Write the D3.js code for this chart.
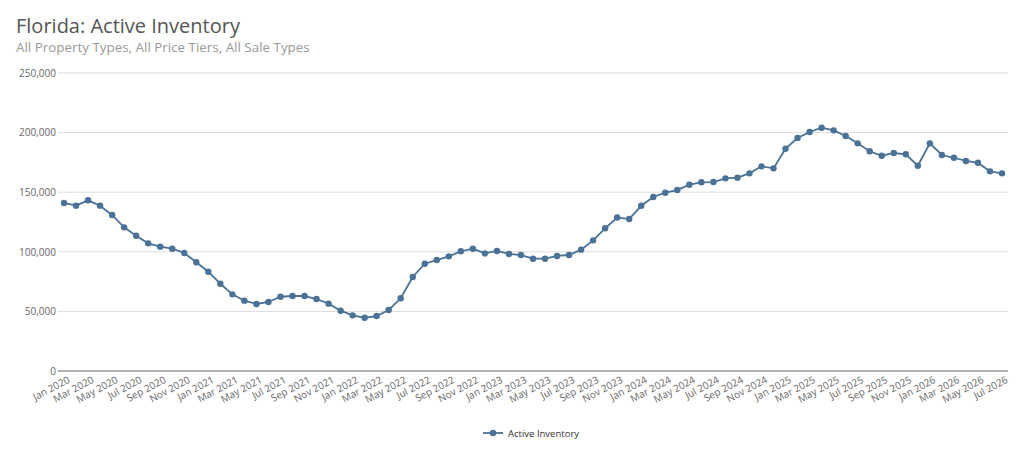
<!DOCTYPE html>
<html>
<head>
<meta charset="utf-8">
<script src="https://cdn.jsdelivr.net/npm/d3@7/dist/d3.min.js"></script>
<style>
  html, body { margin: 0; padding: 0; background: #fff; }
  svg { display: block; font-family: "Open Sans", "Noto Sans", sans-serif; }
</style>
</head>
<body>
<svg id="chart" width="1024" height="469"></svg>
<script>
const title = "Florida: Active Inventory";
const subtitle = "All Property Types, All Price Tiers, All Sale Types";
const seriesName = "Active Inventory";
const monthNames = ["Jan","Feb","Mar","Apr","May","Jun","Jul","Aug","Sep","Oct","Nov","Dec"];
const years = [2020, 2021, 2022, 2023, 2024, 2025, 2026];
const lastMonthIndex2026 = 6; // Jul 2026
const yTicks = [0, 50000, 100000, 150000, 200000, 250000];

const values = [
  141000, 138700, 143200, 138700, 130900, 120500, 113500, 107100, 104300, 102600, 99000, 91200,
  83300, 73200, 64300, 59000, 56200, 57900, 62300, 62900, 62900, 60400, 56500, 50600,
  46700, 44700, 46100, 51200, 61000, 78900, 90000, 93100, 96200, 100400, 102600, 98700,
  100700, 98200, 97300, 94200, 94200, 96500, 97300, 101800, 109600, 119700, 128800, 127500,
  138600, 146000, 149600, 151800, 156300, 158300, 158500, 161600, 162200, 165800, 171700, 170000,
  186500, 195500, 200500, 204100, 201900, 197100, 191000, 184300, 180600, 182900, 181800, 172200,
  191000, 181200, 178900, 176200, 174700, 167500, 165800
];

const categories = [];
years.forEach(y => monthNames.forEach((m, i) => {
  if (y < 2026 || i <= lastMonthIndex2026) categories.push(m + " " + y);
}));
const tickLabels = categories.filter((c, i) => i % 2 === 0);

const data = categories.map((c, i) => ({ cat: c, v: values[i] }));

const svg = d3.select("#chart");
const color = "#4a7196";

const x = d3.scalePoint().domain(categories).range([64, 1002]).padding(0);
const y = d3.scaleLinear().domain([0, 250000]).range([371, 73]);

// Title
svg.append("text").attr("x", 16).attr("y", 33)
  .attr("font-size", 20).attr("fill", "#555").text(title);
svg.append("text").attr("x", 16).attr("y", 52)
  .attr("font-size", 13.4).attr("fill", "#999").text(subtitle);

// Gridlines
svg.append("g").selectAll("line").data(yTicks.filter(t => t > 0)).join("line")
  .attr("x1", 58).attr("x2", 1008)
  .attr("y1", d => y(d)).attr("y2", d => y(d))
  .attr("stroke", "#dcdcdc").attr("stroke-width", 1);

// Y axis labels
const yAxis = d3.axisLeft(y).tickValues(yTicks).tickSize(0).tickPadding(0)
  .tickFormat(d3.format(","));
const gy = svg.append("g").attr("transform", "translate(56,0)").call(yAxis);
gy.select(".domain").remove();
gy.selectAll("text").attr("font-size", 10).attr("fill", "#666")
  .attr("font-family", "'Open Sans', sans-serif");

// X axis
const xAxis = d3.axisBottom(x).tickValues(tickLabels).tickSize(0).tickPadding(0);
const gx = svg.append("g").attr("transform", "translate(0,371)").call(xAxis);
gx.select(".domain").attr("d", "M58,0H1008").attr("stroke", "#666").attr("stroke-width", 1.2);
gx.selectAll(".tick text")
  .attr("font-size", 10).attr("fill", "#666")
  .attr("font-family", "'Open Sans', sans-serif")
  .attr("text-anchor", "end")
  .attr("dy", 0)
  .attr("transform", "translate(6,11) rotate(-28)");

// Line
const line = d3.line().x(d => x(d.cat)).y(d => y(d.v));
svg.append("path").datum(data)
  .attr("fill", "none").attr("stroke", color).attr("stroke-width", 1.8)
  .attr("d", line);
svg.append("g").selectAll("circle").data(data).join("circle")
  .attr("cx", d => x(d.cat)).attr("cy", d => y(d.v)).attr("r", 3.2)
  .attr("fill", color);

// Legend
const lg = svg.append("g").attr("transform", "translate(483,433)");
lg.append("line").attr("x1", 0).attr("x2", 20).attr("y1", 0).attr("y2", 0)
  .attr("stroke", color).attr("stroke-width", 1.8);
lg.append("circle").attr("cx", 10).attr("cy", 0).attr("r", 3.2).attr("fill", color);
lg.append("text").attr("x", 25).attr("y", 3.5).attr("font-size", 9.5)
  .attr("fill", "#333").text(seriesName);
</script>
</body>
</html>
